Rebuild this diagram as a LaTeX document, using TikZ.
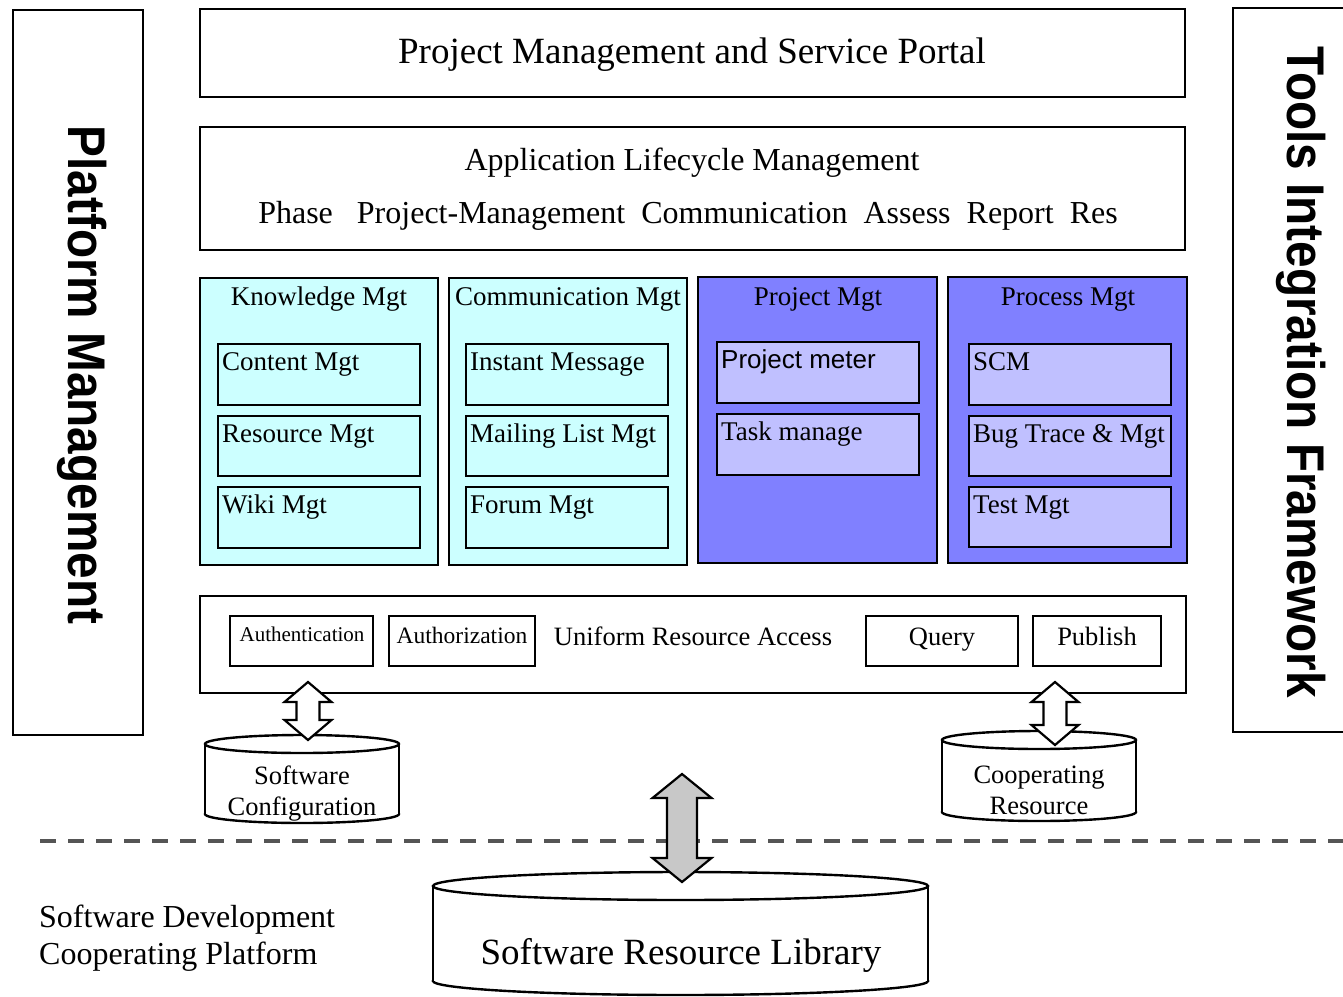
\documentclass[tikz,border=0pt]{standalone}
\usepackage{fontspec}
\setmainfont{Liberation Serif}
\newfontfamily\arialf{Liberation Sans}
\newfontfamily\sidef[FakeStretch=0.9]{Liberation Sans}
\usetikzlibrary{calc}
\definecolor{cyanfill}{HTML}{CCFFFF}
\definecolor{bluefill}{HTML}{8080FF}
\definecolor{lightblue}{HTML}{C0C0FF}
\definecolor{dashgray}{HTML}{555555}
\definecolor{arrowgray}{HTML}{C8C8C8}
\newcommand{\fsz}[1]{\fontsize{#1pt}{#1pt}\selectfont}
\tikzset{
  frame/.style={draw, line width=2.6pt, inner sep=0pt, outer sep=0pt, anchor=north west},
  cyanpanel/.style={fill=cyanfill},
  bluepanel/.style={fill=bluefill},
  cyaninner/.style={fill=cyanfill},
  blueinner/.style={fill=lightblue},
  sidetext/.style={rotate=-90, anchor=base, font=\sidef\bfseries\fsz{53}},
  paneltitle/.style={anchor=base, font=\fsz{27}},
  innertext/.style={anchor=base west, font=\fsz{27}, inner sep=0pt},
  small/.style={anchor=base, inner sep=0pt},
  cylline/.style={line width=2.4pt},
  blockarrow/.style={draw, line width=2.2pt, line join=miter},
}
\newcommand{\rbox}[6]{\node[frame,#6,minimum width={(#4-#2)*1pt}, minimum height={(#5-#3)*1pt}] (#1) at (#2,#3) {};}
% name, text, x1,y1,x2,y2, style, textstyle
\newcommand{\ibox}[8]{\rbox{#1}{#3}{#4}{#5}{#6}{#7}
  \node[innertext,#8] (#1t) at ([shift={(4pt,-26pt)}]#1.north west) {#2};}
% cylinder: name, xl, xr, ytop, ybot, ry
\newcommand{\cyl}[6]{%
  \draw[cylline, fill=white] ({(#2+#3)/2},#5) ellipse [x radius={(#3-#2)/2}, y radius=#6];
  \fill[white] (#2,#4) rectangle (#3,#5);
  \draw[cylline] (#2,#4) -- (#2,#5) (#3,#4) -- (#3,#5);
  \draw[cylline, fill=white] ({(#2+#3)/2},#4) ellipse [x radius={(#3-#2)/2}, y radius=#6];
  \coordinate (#1) at ({(#2+#3)/2},#4);}
% double block arrow: top, bottom, shaft half, head half, head length, fill
\newcommand{\dblarrow}[6]{%
  \draw[blockarrow, fill=#6] let \p1=(#1), \p2=(#2) in
    (\x1,\y1) -- ({\x1+#4pt},{\y1-#5pt}) -- ({\x1+#3pt},{\y1-#5pt}) -- ({\x1+#3pt},{\y2+#5pt})
    -- ({\x1+#4pt},{\y2+#5pt}) -- (\x1,\y2) -- ({\x1-#4pt},{\y2+#5pt}) -- ({\x1-#3pt},{\y2+#5pt})
    -- ({\x1-#3pt},{\y1-#5pt}) -- ({\x1-#4pt},{\y1-#5pt}) -- cycle;}
\begin{document}
\begin{tikzpicture}[x=1pt,y=-1pt]
\useasboundingbox (0,0) rectangle (1343,996);
\clip (0,0) rectangle (1343,996);
\fill[white] (0,0) rectangle (1343,996);

% side frames
\rbox{pm}{13}{10}{143}{735}{fill=white}
\node[sidetext] (pmt) at (68,375) {Platform Management};
\rbox{tif}{1233}{8}{1370}{732}{fill=white}
\node[sidetext] (tift) at (1287,372) {Tools Integration Framework};

% portal
\rbox{portal}{200}{9}{1185}{97}{fill=white}
\node[small, font=\fsz{37}] (portalt) at (692,63) {Project Management and Service Portal};

% ALM
\rbox{alm}{200}{127}{1185}{250}{fill=white}
\node[small, font=\fsz{32}] (almt) at (692,170) {Application Lifecycle Management};
\node[small, font=\fsz{32}] (almp) at (688,223) {Phase\hspace{24pt}Project-Management\hspace{16pt}Communication\hspace{16pt}Assess\hspace{16pt}Report\hspace{16pt}Res};

% panels
\rbox{km}{200}{278}{438}{565}{cyanpanel}
\node[paneltitle] (kmt) at (319,305) {Knowledge Mgt};
\ibox{cm}{Content Mgt}{218}{344}{420}{405}{cyaninner}{}
\ibox{rm}{Resource Mgt}{218}{416}{420}{476}{cyaninner}{}
\ibox{wm}{Wiki Mgt}{218}{487}{420}{548}{cyaninner}{}

\rbox{com}{449}{278}{687}{565}{cyanpanel}
\node[paneltitle] (comt) at (568,305) {Communication Mgt};
\ibox{im}{Instant Message}{466}{344}{668}{405}{cyaninner}{}
\ibox{ml}{Mailing List Mgt}{466}{416}{668}{476}{cyaninner}{}
\ibox{fm}{Forum Mgt}{466}{487}{668}{548}{cyaninner}{}

\rbox{prm}{698}{277}{937}{563}{bluepanel}
\node[paneltitle] (prmt) at (818,305) {Project Mgt};
\ibox{pmeter}{Project meter}{717}{342}{919}{403}{blueinner}{font=\arialf\fsz{26}}
\ibox{task}{Task manage}{717}{414}{919}{475}{blueinner}{}

\rbox{psm}{948}{277}{1187}{563}{bluepanel}
\node[paneltitle] (psmt) at (1068,305) {Process Mgt};
\ibox{scm}{SCM}{969}{344}{1171}{405}{blueinner}{}
\ibox{bug}{Bug Trace \& Mgt}{969}{416}{1171}{476}{blueinner}{}
\ibox{test}{Test Mgt}{969}{487}{1171}{547}{blueinner}{}

% uniform resource access
\rbox{ura}{200}{596}{1186}{693}{fill=white}
\rbox{auth}{230}{616}{373}{666}{fill=white}
\node[small, font=\fsz{21}] (autht) at (302,641) {Authentication};
\rbox{authz}{389}{616}{535}{666}{fill=white}
\node[small, font=\fsz{23.5}] (authzt) at (462,643) {Authorization};
\node[small, font=\fsz{26.5}] (urat) at (693,645) {Uniform Resource Access};
\rbox{query}{866}{616}{1018}{666}{fill=white}
\node[small, font=\fsz{26.5}] (queryt) at (942,645) {Query};
\rbox{pub}{1033}{616}{1161}{666}{fill=white}
\node[small, font=\fsz{26.5}] (pubt) at (1097,645) {Publish};

% cylinders
\cyl{swc}{205}{399}{744}{814}{9}
\node[small, font=\fsz{26.5}] (swc1) at (302,784) {Software};
\node[small, font=\fsz{26.5}] (swc2) at (302,815) {Configuration};
\cyl{cr}{942}{1136}{740}{812}{9}
\node[small, font=\fsz{26.5}] (cr1) at (1039,783) {Cooperating};
\node[small, font=\fsz{26.5}] (cr2) at (1039,814) {Resource};

% dashed separator
\draw[dashgray, line width=4pt, dash pattern=on 16pt off 12pt] (40,841) -- (1350,841);

\cyl{srl}{433}{928}{886}{981}{14}
\node[small, font=\fsz{37}] (srlt) at (681,964) {Software Resource Library};

\node[anchor=base west, inner sep=0pt, font=\fsz{32}] (sdcp1) at (39,927) {Software Development};
\node[anchor=base west, inner sep=0pt, font=\fsz{32}] (sdcp2) at (39,964) {Cooperating Platform};

% arrows
\coordinate (a1t) at (308,682);
\coordinate (a1b) at (308,740);
\dblarrow{a1t}{a1b}{11.5}{23.5}{20}{white}
\coordinate (a2t) at (1055,682);
\coordinate (a2b) at (1055,745);
\dblarrow{a2t}{a2b}{11.5}{23.5}{20}{white}
\coordinate (a3t) at (682,774);
\coordinate (a3b) at (682,882);
\dblarrow{a3t}{a3b}{15}{29.5}{24}{arrowgray}
\end{tikzpicture}
\end{document}
